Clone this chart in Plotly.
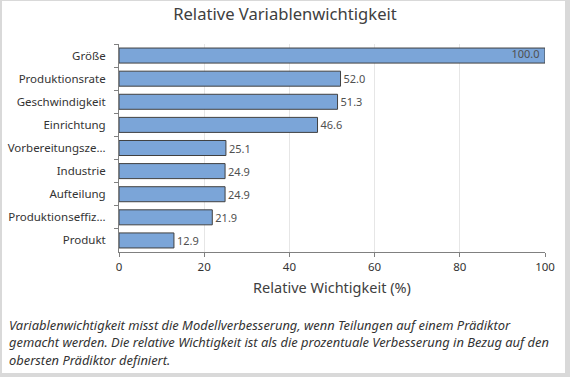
import plotly.graph_objects as go

categories = ["Größe", "Produktionsrate", "Geschwindigkeit", "Einrichtung",
              "Vorbereitungsze...", "Industrie", "Aufteilung",
              "Produktionseffiz...", "Produkt"]
values = [100.0, 52.0, 51.3, 46.6, 25.1, 24.9, 24.9, 21.9, 12.9]
x_ticks = [0, 20, 40, 60, 80, 100]
footnote_lines = [
    "Variablenwichtigkeit misst die Modellverbesserung, wenn Teilungen auf einem Prädiktor",
    "gemacht werden. Die relative Wichtigkeit ist als die prozentuale Verbesserung in Bezug auf den",
    "obersten Prädiktor definiert.",
]

W, H = 570, 377
L, R, T, B = 119, 25, 44, 125
pw, ph = W - L - R, H - T - B

def px(x):
    return (x - L) / pw

def py(y):
    return (H - B - y) / ph

FONT = "Noto Sans"
LABEL_FONT = dict(size=11, color="#505050", family=FONT)
fig = go.Figure()
inside = [v >= 99.95 for v in values]
fig.add_trace(go.Bar(
    x=values, y=categories, orientation="h",
    marker=dict(color="#7BA5D8", line=dict(color="#404040", width=1)),
    width=0.65,
    text=[("" if ins else f"{v:.1f}") for v, ins in zip(values, inside)],
    textposition="outside",
    textfont=LABEL_FONT, outsidetextfont=LABEL_FONT,
    cliponaxis=False,
    hoverinfo="skip",
))
fig.add_trace(go.Scatter(
    x=[v for v, ins in zip(values, inside) if ins],
    y=[c for c, ins in zip(categories, inside) if ins],
    mode="text",
    text=["%.1f" % v + "\u2002" for v, ins in zip(values, inside) if ins],
    textposition="middle left",
    textfont=LABEL_FONT,
    cliponaxis=False,
    hoverinfo="skip",
))

shapes = []
gray = "#d9d9d9"
for x0, y0, x1, y1 in [(0, 0, 2, H), (0, 0, W, 1), (W - 5, 0, W, H), (0, H - 4, W, H)]:
    shapes.append(dict(type="rect", xref="paper", yref="paper",
                       x0=px(x0), x1=px(x1), y0=py(y1), y1=py(y0),
                       fillcolor=gray, line=dict(width=0), layer="above"))

annotations = []
for i, line in enumerate(footnote_lines):
    annotations.append(dict(
        text=line, xref="paper", yref="paper", x=px(7), y=py(325 + 17.3 * i),
        xanchor="left", yanchor="middle", align="left", showarrow=False,
        font=dict(size=12.9, color="#333333", family=FONT, style="italic"),
    ))

fig.update_layout(
    width=W, height=H,
    margin=dict(l=L, r=R, t=T, b=B, autoexpand=False),
    paper_bgcolor="white", plot_bgcolor="white",
    font=dict(family=FONT, color="#333333"),
    showlegend=False,
    title=dict(text="Relative Variablenwichtigkeit", x=0.5, xanchor="center",
               y=1 - 14 / H, yanchor="middle",
               font=dict(size=16.6, color="#404040", family=FONT)),
    xaxis=dict(range=[0, 100], tickvals=x_ticks, showgrid=True,
               gridcolor="#e6e6e6", gridwidth=1, zeroline=False,
               showline=True, linecolor="#808080", linewidth=1,
               ticks="outside", ticklen=4, tickcolor="#808080",
               tickfont=dict(size=11.5, color="#333333", family=FONT),
               automargin=False,
               title=dict(text="Relative Wichtigkeit (%)", standoff=10,
                          font=dict(size=14.5, color="#404040", family=FONT))),
    yaxis=dict(categoryorder="array", categoryarray=categories,
               autorange=False, range=[8.5, -0.5],
               showline=True, linecolor="#808080", linewidth=1,
               ticks="outside", ticklen=4, tickcolor="#808080",
               tickson="boundaries", showgrid=False,
               ticklabelstandoff=10, automargin=False,
               tickfont=dict(size=11.5, color="#333333", family=FONT)),
    shapes=shapes,
    annotations=annotations,
)

fig.write_html("out.html", config={"displayModeBar": False},
               post_script="document.body.style.margin='0';")
